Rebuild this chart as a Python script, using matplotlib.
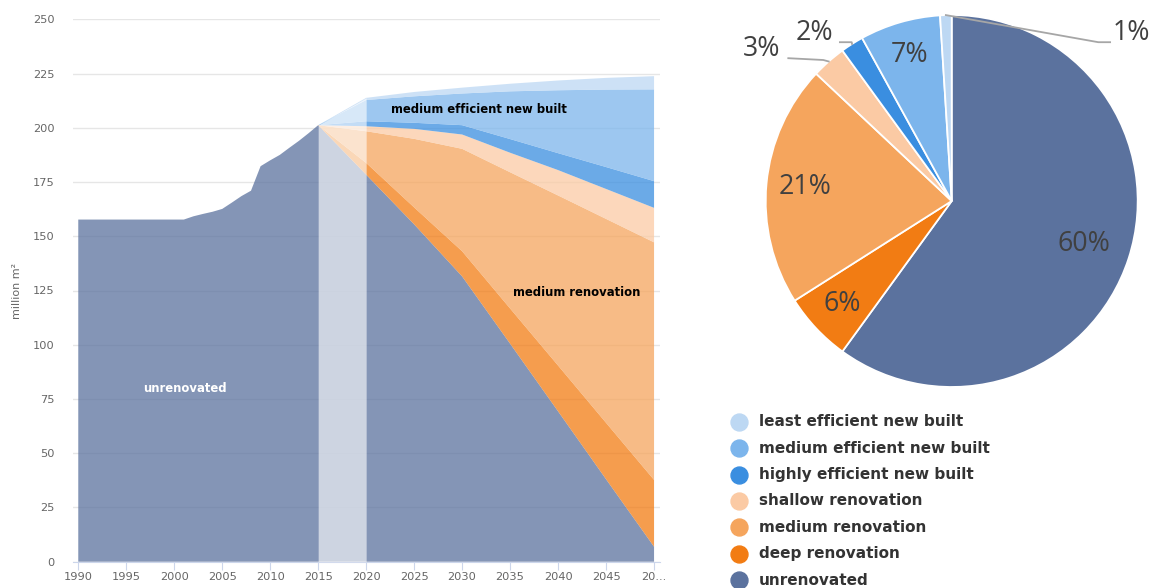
import matplotlib
matplotlib.use('Agg')
import matplotlib.pyplot as plt
import numpy as np
from matplotlib.lines import Line2D

plt.rcParams['font.family'] = ['DejaVu Sans']

# 建物ストック（百万 m²）
hist_years = list(range(1990, 2016))
hist_unrenovated = [157.7, 157.7, 157.7, 157.7, 157.7, 157.7, 157.7, 157.7, 157.7, 157.7,
                    157.7, 157.7, 159.2, 160.3, 161.3, 162.6, 165.5, 168.5, 171.0, 182.3,
                    185.0, 187.5, 190.8, 194.0, 197.5, 201.2]

scen_years = [2020, 2025, 2030, 2035, 2040, 2045, 2050]
unrenovated = [178.4, 155.5, 131.5, 100.5, 69.3, 38.0, 6.9]
deep_reno = [5.4, 7.8, 11.6, 16.2, 21.1, 26.0, 30.8]
medium_reno = [14.6, 31.6, 47.2, 62.8, 78.4, 94.0, 109.5]
shallow_reno = [2.3, 4.6, 6.6, 9.0, 11.7, 13.8, 15.9]
highly_new = [2.3, 2.8, 4.3, 6.3, 7.8, 10.1, 12.3]
medium_new = [9.8, 12.2, 14.6, 22.0, 29.0, 35.7, 42.3]
least_new = [1.0, 2.0, 2.7, 3.5, 4.5, 5.4, 6.1]

# 円グラフ（％）
pie_values = [60, 6, 21, 3, 2, 7, 1]

names = ['unrenovated', 'deep renovation', 'medium renovation', 'shallow renovation',
         'highly efficient new built', 'medium efficient new built', 'least efficient new built']
colors = ['#5b729e', '#f27c13', '#f5a55d', '#fbcaa4', '#3a8ee0', '#7cb5ec', '#bdd8f3']

x_ticks = [1990, 1995, 2000, 2005, 2010, 2015, 2020, 2025, 2030, 2035, 2040, 2045, 2050]
x_ticklabels = ['1990', '1995', '2000', '2005', '2010', '2015', '2020', '2025',
                '2030', '2035', '2040', '2045', '20...']
y_ticks = [0, 25, 50, 75, 100, 125, 150, 175, 200, 225, 250]

# 過去値と将来値をつなげる（2015年以前は新築・改修ゼロ）
years = np.array(hist_years + scen_years)
n_hist = len(hist_years)
series = [hist_unrenovated + unrenovated]
for s in [deep_reno, medium_reno, shallow_reno, highly_new, medium_new, least_new]:
    series.append([0.0] * n_hist + s)
total = np.sum(series, axis=0)

fig = plt.figure(figsize=(11.57, 5.88), dpi=100)

# 積み上げ面グラフ
ax = fig.add_axes([72.7 / 1157, 1 - 561.7 / 588, (660 - 72.7) / 1157, (561.7 - 19.3) / 588])
ax.stackplot(years, *series, colors=colors, alpha=0.75, linewidth=0, zorder=2)

# 2015〜2020年の補間区間を薄くする
band = (years >= 2015) & (years <= 2020)
ax.fill_between(years[band], 0, total[band], color='white', alpha=0.6, lw=0, zorder=3)

ax.set_xlim(1989.42, 2050.62)
ax.set_ylim(0, 250)
ax.set_yticks(y_ticks)
ax.set_xticks(x_ticks)
ax.set_xticklabels(x_ticklabels)
ax.grid(axis='y', color='#e6e6e6', lw=1, zorder=0)
ax.set_axisbelow(True)
for side in ['top', 'right', 'left']:
    ax.spines[side].set_visible(False)
ax.spines['bottom'].set_color('#ccd6eb')
ax.tick_params(axis='y', length=0, pad=13, labelsize=8.2, labelcolor='#666666')
ax.tick_params(axis='x', length=5.5, color='#ccd6eb', pad=2, labelsize=8.2, labelcolor='#666666')
ax.set_ylabel('million m²', fontsize=8, color='#666666', labelpad=8)

ax.text(2031.8, 208.4, 'medium efficient new built', ha='center', va='center',
        fontsize=8.4, fontweight='bold', color='black', zorder=5)
ax.text(2041.9, 124.0, 'medium renovation', ha='center', va='center',
        fontsize=8.4, fontweight='bold', color='black', zorder=5)
ax.text(2001.1, 79.7, 'unrenovated', ha='center', va='center',
        fontsize=8.4, fontweight='bold', color='white', zorder=5)

# 円グラフ
pc = 951.7 / 1157, 1 - 201 / 588
pw, ph = 400 / 1157, 400 / 588
ax2 = fig.add_axes([pc[0] - pw / 2, pc[1] - ph / 2, pw, ph])
R = 0.93
wedges, _ = ax2.pie(pie_values, colors=colors, startangle=90, counterclock=False, radius=R,
                    wedgeprops=dict(edgecolor='white', linewidth=1.3))
ax2.set_xlim(-1, 1)
ax2.set_ylim(-1, 1)
ax2.axis('off')

pct_font = dict(family=['Open Sans', 'DejaVu Sans'], fontsize=19.3, color='#404040')
inside = {0: 0.75, 1: 0.81, 2: 0.79, 5: 0.82}
for i, w in enumerate(wedges):
    mid = np.radians((w.theta1 + w.theta2) / 2)
    label = f'{pie_values[i]}%'
    if i in inside:
        r = inside[i] * R
        ax2.text(r * np.cos(mid), r * np.sin(mid), label, ha='center', va='center', **pct_font)

# 小さい扇形は引き出し線付き
outside = {3: ((-0.642, 0.705), (-0.817, 0.714), (-0.855, 0.759), 'right'),
           4: ((-0.50, 0.794), (-0.559, 0.794), (-0.594, 0.84), 'right'),
           6: ((0.733, 0.794), (0.792, 0.794), (0.806, 0.84), 'left')}
for i, (p1, p2, pt, ha) in outside.items():
    w = wedges[i]
    mid = np.radians((w.theta1 + w.theta2) / 2)
    ex, ey = R * np.cos(mid), R * np.sin(mid)
    ax2.plot([ex, p1[0], p2[0]], [ey, p1[1], p2[1]], color='#a6a6a6', lw=1.3, clip_on=False)
    ax2.text(pt[0], pt[1], f'{pie_values[i]}%', ha=ha, va='center', **pct_font)

# 凡例
for k, i in enumerate(range(len(names) - 1, -1, -1)):
    ypx = 421.7 + k * 26.4
    fy = 1 - ypx / 588
    fig.add_artist(Line2D([739 / 1157], [fy], marker='o', markersize=12.2, color=colors[i],
                          lw=0, transform=fig.transFigure))
    fig.text(759 / 1157, fy, names[i], ha='left', va='center', fontsize=11,
             fontweight='bold', color='#333333')

fig.savefig('out.png', dpi=100)
